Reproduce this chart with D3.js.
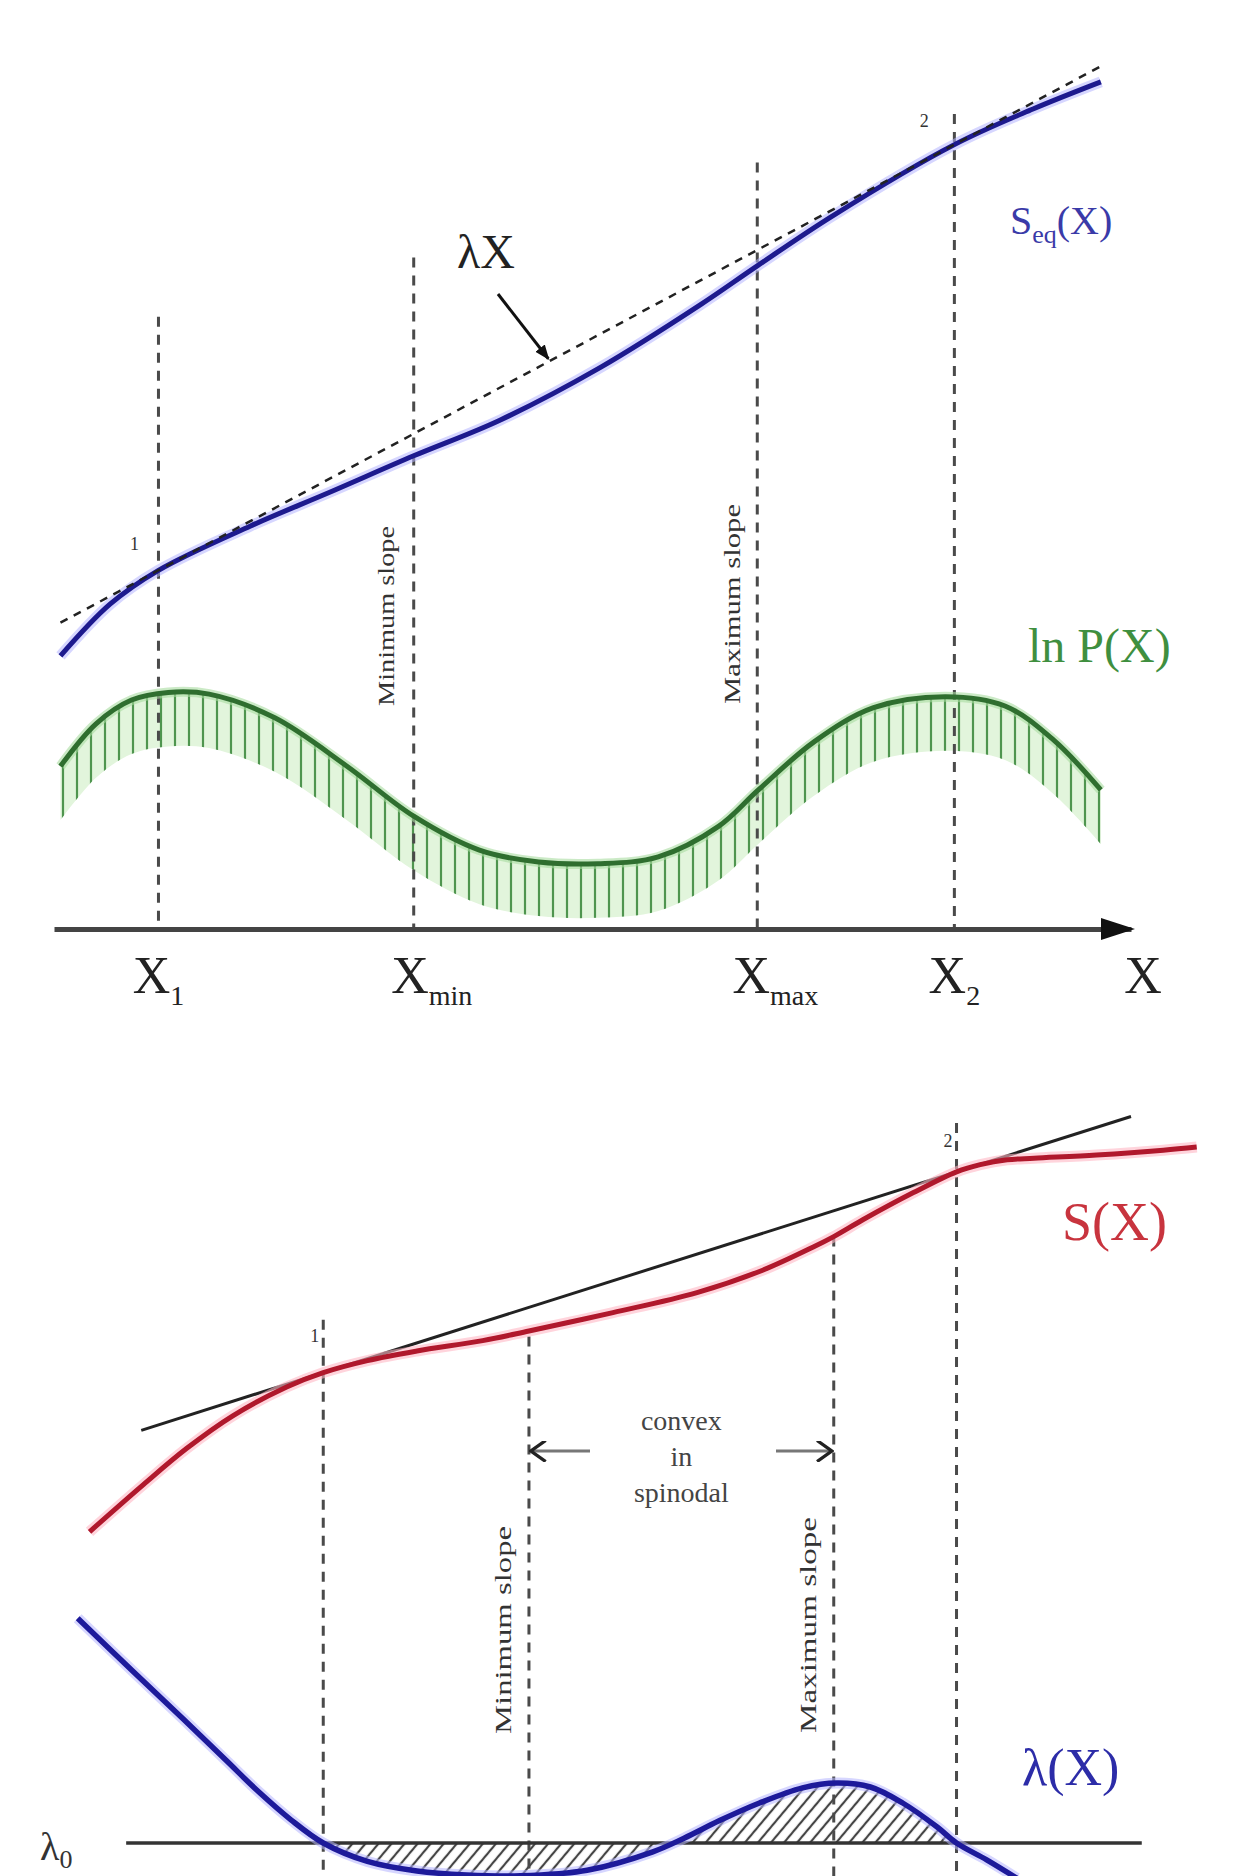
<!DOCTYPE html>
<html>
<head>
<meta charset="utf-8">
<script src="https://cdn.jsdelivr.net/npm/d3@7"></script>
<style>
body { margin: 0; background: #fff; }
svg { display: block; font-family: "Liberation Serif", "DejaVu Serif", serif; }
</style>
</head>
<body>
<div id="chart"></div>
<script>
// X runs 0..10 along the axis, curve values are arbitrary units
var markerLabels = ["1", "min", "max", "2"];
var topMarkerX = [0.97, 3.34, 6.53, 8.36];
var topMarkerTop = [7.22, 7.92, 9.04, 9.61];
var botMarkerX = [2.50, 4.41, 7.24, 8.38];
var botMarkerTop = [7.54, 7.33, 8.58, 10.0];

// S_eq(X), top panel
var seqX = [0.06, 0.52, 0.97, 1.82, 2.56, 3.34, 4.14, 5.07, 6.00, 6.53, 7.23, 8.36, 9.09, 9.72];
var seqY = [3.22, 3.83, 4.23, 4.75, 5.15, 5.58, 6.00, 6.62, 7.36, 7.82, 8.41, 9.25, 9.67, 9.99];

// ln P(X), top panel
var lnpX = [0.06, 0.39, 0.72, 1.06, 1.44, 2.05, 2.72, 3.34, 3.95, 4.50, 5.05, 5.61, 6.17, 6.54, 7.06, 7.61, 8.28, 8.83, 9.28, 9.72];
var lnpY = [1.92, 2.42, 2.70, 2.79, 2.77, 2.49, 1.92, 1.33, 0.93, 0.79, 0.77, 0.85, 1.21, 1.64, 2.21, 2.61, 2.74, 2.63, 2.23, 1.64];

// S(X), bottom panel
var sX = [0.33, 0.83, 1.23, 1.66, 2.16, 2.50, 2.91, 3.37, 3.98, 4.41, 5.19, 5.97, 6.58, 7.05, 7.24, 7.51, 7.98, 8.38, 8.60, 8.85, 9.10, 9.68, 10.30, 10.61];
var sY = [4.89, 5.48, 5.93, 6.34, 6.70, 6.88, 7.03, 7.15, 7.28, 7.40, 7.63, 7.88, 8.16, 8.45, 8.58, 8.79, 9.13, 9.39, 9.48, 9.54, 9.56, 9.60, 9.66, 9.70];

// lambda(X), bottom panel
var lamX = [0.22, 0.73, 1.20, 1.60, 1.90, 2.20, 2.50, 2.91, 3.37, 3.83, 4.33, 4.95, 5.56, 5.85, 6.18, 6.55, 6.95, 7.27, 7.58, 7.88, 8.20, 8.38, 8.66, 8.94];
var lamY = [3.81, 3.15, 2.55, 2.03, 1.64, 1.29, 1.00, 0.77, 0.65, 0.60, 0.59, 0.66, 0.89, 1.06, 1.28, 1.50, 1.69, 1.75, 1.70, 1.50, 1.20, 1.00, 0.79, 0.56];
var lambda0 = 1.0;

var width = 1253, height = 1876;

var svg = d3.select("#chart").append("svg")
  .attr("width", width)
  .attr("height", height);

var x = d3.scaleLinear().domain([0, 10]).range([54, 1131]);
var yTop = d3.scaleLinear().domain([0, 10]).range([929, 81]);
var yBot = d3.scaleLinear().domain([0, 10]).range([1923, 1123]);
var smooth = d3.curveCatmullRom.alpha(0.5);

function zip(a, b) { return a.map(function(v, i) { return [v, b[i]]; }); }

var defs = svg.append("defs");
var vpat = defs.append("pattern").attr("id", "vhatch")
  .attr("patternUnits", "userSpaceOnUse").attr("width", 14).attr("height", 10);
vpat.append("line").attr("x1", 7).attr("x2", 7).attr("y1", 0).attr("y2", 10)
  .attr("stroke", "#4f954f").attr("stroke-width", 2.2);
var dpat = defs.append("pattern").attr("id", "dhatch")
  .attr("patternUnits", "userSpaceOnUse").attr("width", 10).attr("height", 10)
  .attr("patternTransform", "rotate(40)");
dpat.append("line").attr("x1", 5).attr("x2", 5).attr("y1", 0).attr("y2", 10)
  .attr("stroke", "#444").attr("stroke-width", 2.2);
defs.append("clipPath").attr("id", "spin")
  .append("rect")
  .attr("x", x(botMarkerX[0])).attr("width", x(botMarkerX[3]) - x(botMarkerX[0]))
  .attr("y", 0).attr("height", height);
var arr = defs.append("marker").attr("id", "ahead").attr("viewBox", "0 0 10 10")
  .attr("refX", 9).attr("refY", 5).attr("markerWidth", 5).attr("markerHeight", 5)
  .attr("orient", "auto");
arr.append("path").attr("d", "M0,1L10,5L0,9Z").attr("fill", "#111");
var open = defs.append("marker").attr("id", "chev").attr("viewBox", "0 0 10 10")
  .attr("refX", 9).attr("refY", 5).attr("markerWidth", 7).attr("markerHeight", 7)
  .attr("orient", "auto");
open.append("path").attr("d", "M2,0L9,5L2,10").attr("fill", "none")
  .attr("stroke", "#222").attr("stroke-width", 1.6);

// ================= top panel =================
var topG = svg.append("g");

// ln P hatch band
var lnp = zip(lnpX, lnpY);
var band = d3.area()
  .x(function(d) { return x(d[0]); })
  .y0(function(d) { return yTop(d[1]) + 54; })
  .y1(function(d) { return yTop(d[1]); })
  .curve(smooth);
topG.append("path").datum(lnp).attr("d", band).attr("fill", "#e2f5dc");
topG.append("path").datum(lnp).attr("d", band).attr("fill", "url(#vhatch)");

// vertical dashed markers
topG.selectAll(".vtop").data(topMarkerX).enter().append("line")
  .attr("x1", function(d) { return x(d); }).attr("x2", function(d) { return x(d); })
  .attr("y1", function(d, i) { return yTop(topMarkerTop[i]); })
  .attr("y2", yTop(0))
  .attr("stroke", "#4a4a4a").attr("stroke-width", 3).attr("stroke-dasharray", "10,8");

// axis
var xAxis = topG.append("g")
  .attr("transform", "translate(0," + yTop(0) + ")")
  .call(d3.axisBottom(x).tickValues([]).tickSizeOuter(0));
xAxis.select(".domain").attr("stroke", "#444").attr("stroke-width", 5);
topG.append("path")
  .attr("d", "M" + (x(10) - 30) + "," + (yTop(0) - 11) + "L" + (x(10) + 4) + "," + yTop(0) +
    "L" + (x(10) - 30) + "," + (yTop(0) + 11) + "Z")
  .attr("fill", "#111");

// ln P curve
var lineTop = d3.line()
  .x(function(d) { return x(d[0]); })
  .y(function(d) { return yTop(d[1]); })
  .curve(smooth);
topG.append("path").datum(lnp).attr("d", lineTop)
  .attr("fill", "none").attr("stroke", "#a8dca0").attr("stroke-width", 10).attr("opacity", 0.6);
topG.append("path").datum(lnp).attr("d", lineTop)
  .attr("fill", "none").attr("stroke", "#2f6e2f").attr("stroke-width", 5);

// S_eq curve
var seq = zip(seqX, seqY);
topG.append("path").datum(seq).attr("d", lineTop)
  .attr("fill", "none").attr("stroke", "#b4b4ff").attr("stroke-width", 11).attr("opacity", 0.55);
topG.append("path").datum(seq).attr("d", lineTop)
  .attr("fill", "none").attr("stroke", "#1d1a8e").attr("stroke-width", 5);

// lambda X tangent through points 1 and 2
var p1 = seq[2], p2 = seq[11];
var slope = (p2[1] - p1[1]) / (p2[0] - p1[0]);
function tan(v) { return p1[1] + slope * (v - p1[0]); }
topG.append("line")
  .attr("x1", x(0.06)).attr("y1", yTop(tan(0.06)))
  .attr("x2", x(9.72)).attr("y2", yTop(tan(9.72)))
  .attr("stroke", "#222").attr("stroke-width", 2.5).attr("stroke-dasharray", "8,7");

// labels
topG.append("text").attr("x", x(p1[0]) - 24).attr("y", yTop(p1[1]) - 20)
  .attr("font-size", 18).attr("fill", "#333").attr("text-anchor", "middle").text("1");
topG.append("text").attr("x", x(p2[0]) - 30).attr("y", yTop(p2[1]) - 18)
  .attr("font-size", 18).attr("fill", "#333").attr("text-anchor", "middle").text("2");

topG.append("text").attr("x", 486).attr("y", 268).attr("font-size", 48)
  .attr("fill", "#222").attr("text-anchor", "middle").text("λX");
topG.append("line")
  .attr("x1", 498).attr("y1", 294)
  .attr("x2", x(4.59)).attr("y2", yTop(tan(4.59)) - 3)
  .attr("stroke", "#111").attr("stroke-width", 3).attr("marker-end", "url(#ahead)");

var seqLab = topG.append("text").attr("x", 1010).attr("y", 234)
  .attr("font-size", 40).attr("fill", "#3a3aa8");
seqLab.append("tspan").text("S");
seqLab.append("tspan").attr("font-size", 26).attr("dy", 9).text("eq");
seqLab.append("tspan").attr("dy", -9).text("(X)");

topG.append("text").attr("x", 1028).attr("y", 662).attr("font-size", 48)
  .attr("fill", "#3f8f3f").text("ln P(X)");

function rotLabel(g, cx, cy, len, txt) {
  g.append("text")
    .attr("transform", "translate(" + cx + "," + cy + ") rotate(-90)")
    .attr("text-anchor", "middle").attr("dominant-baseline", "central")
    .attr("font-size", 24).attr("fill", "#333")
    .attr("textLength", len).attr("lengthAdjust", "spacingAndGlyphs")
    .text(txt);
}
rotLabel(topG, x(topMarkerX[1]) - 28, 616, 180, "Minimum slope");
rotLabel(topG, x(topMarkerX[2]) - 25, 604, 200, "Maximum slope");

var xl = topG.selectAll(".xlab").data(topMarkerX).enter().append("text")
  .attr("x", function(d, i) { return x(d) + (i === 1 || i === 2 ? 18 : 0); })
  .attr("y", 993).attr("font-size", 52).attr("fill", "#222").attr("text-anchor", "middle");
xl.append("tspan").text("X");
xl.append("tspan").attr("font-size", 28).attr("dy", 12)
  .text(function(d, i) { return markerLabels[i]; });
topG.append("text").attr("x", 1143).attr("y", 993).attr("font-size", 52)
  .attr("fill", "#222").attr("text-anchor", "middle").text("X");

// ================= bottom panel =================
var botG = svg.append("g");
var lineBot = d3.line()
  .x(function(d) { return x(d[0]); })
  .y(function(d) { return yBot(d[1]); })
  .curve(smooth);

var lam = zip(lamX, lamY);
var lamArea = d3.area()
  .x(function(d) { return x(d[0]); })
  .y0(yBot(lambda0))
  .y1(function(d) { return yBot(d[1]); })
  .curve(smooth);
botG.append("path").datum(lam).attr("d", lamArea)
  .attr("clip-path", "url(#spin)").attr("fill", "url(#dhatch)");

botG.selectAll(".vbot").data(botMarkerX).enter().append("line")
  .attr("x1", function(d) { return x(d); }).attr("x2", function(d) { return x(d); })
  .attr("y1", function(d, i) { return yBot(botMarkerTop[i]); })
  .attr("y2", height)
  .attr("stroke", "#4a4a4a").attr("stroke-width", 3).attr("stroke-dasharray", "10,8");

// lambda0 line
botG.append("line").attr("x1", x(0.67)).attr("x2", x(10.1))
  .attr("y1", yBot(lambda0)).attr("y2", yBot(lambda0))
  .attr("stroke", "#333").attr("stroke-width", 3.5);

// S(X) and its tangent
var sdat = zip(sX, sY);
var q1 = sdat[5], q2 = sdat[17];
var slope2 = (q2[1] - q1[1]) / (q2[0] - q1[0]);
function tan2(v) { return q1[1] + slope2 * (v - q1[0]); }
botG.append("line")
  .attr("x1", x(0.81)).attr("y1", yBot(tan2(0.81)))
  .attr("x2", x(10.0)).attr("y2", yBot(tan2(10.0)))
  .attr("stroke", "#222").attr("stroke-width", 3);
botG.append("path").datum(sdat).attr("d", lineBot)
  .attr("fill", "none").attr("stroke", "#ffb8c4").attr("stroke-width", 11).attr("opacity", 0.6);
botG.append("path").datum(sdat).attr("d", lineBot)
  .attr("fill", "none").attr("stroke", "#b0182c").attr("stroke-width", 5);

// lambda curve
botG.append("path").datum(lam).attr("d", lineBot)
  .attr("fill", "none").attr("stroke", "#b4b4ff").attr("stroke-width", 11).attr("opacity", 0.55);
botG.append("path").datum(lam).attr("d", lineBot)
  .attr("fill", "none").attr("stroke", "#1d1a9a").attr("stroke-width", 5.5);

// labels
botG.append("text").attr("x", x(q1[0]) - 4).attr("y", yBot(botMarkerTop[0]) + 22)
  .attr("font-size", 18).attr("fill", "#333").attr("text-anchor", "end").text("1");
botG.append("text").attr("x", x(q2[0]) - 4).attr("y", yBot(botMarkerTop[3]) + 24)
  .attr("font-size", 18).attr("fill", "#333").attr("text-anchor", "end").text("2");

botG.append("text").attr("x", 1062).attr("y", 1240).attr("font-size", 54)
  .attr("fill", "#c8343e").text("S(X)");
botG.append("text").attr("x", 1022).attr("y", 1785).attr("font-size", 52)
  .attr("fill", "#2c2ca8").text("λ(X)");
var l0 = botG.append("text").attr("x", 40).attr("y", 1860).attr("font-size", 40).attr("fill", "#333");
l0.append("tspan").text("λ");
l0.append("tspan").attr("font-size", 26).attr("dy", 8).text("0");

var midX = (x(botMarkerX[1]) + x(botMarkerX[2])) / 2;
["convex", "in", "spinodal"].forEach(function(t, i) {
  botG.append("text").attr("x", midX).attr("y", 1430 + i * 36)
    .attr("font-size", 28).attr("fill", "#444").attr("text-anchor", "middle").text(t);
});
botG.append("line").attr("x1", 590).attr("x2", x(botMarkerX[1]) + 2)
  .attr("y1", 1451).attr("y2", 1451)
  .attr("stroke", "#777").attr("stroke-width", 3).attr("marker-end", "url(#chev)");
botG.append("line").attr("x1", 776).attr("x2", x(botMarkerX[2]) - 2)
  .attr("y1", 1451).attr("y2", 1451)
  .attr("stroke", "#777").attr("stroke-width", 3).attr("marker-end", "url(#chev)");

rotLabel(botG, x(botMarkerX[1]) - 26, 1630, 208, "Minimum slope");
rotLabel(botG, x(botMarkerX[2]) - 26, 1625, 216, "Maximum slope");
</script>
</body>
</html>
